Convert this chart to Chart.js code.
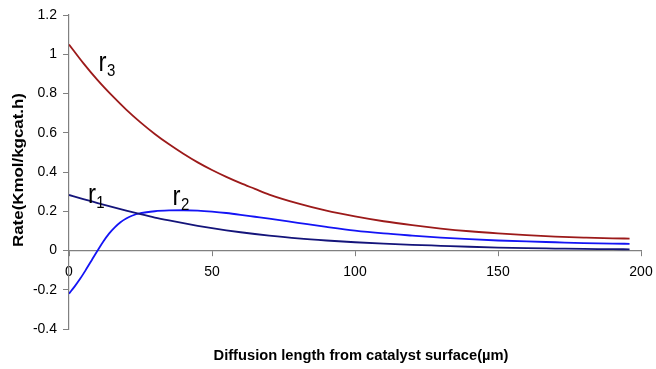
<!DOCTYPE html>
<html>
<head>
<meta charset="utf-8">
<script src="https://cdn.jsdelivr.net/npm/chart.js@4/dist/chart.umd.min.js"></script>
<style>
  html, body { margin: 0; padding: 0; background: #ffffff; }
  #wrap { width: 656px; height: 369px; position: relative; }
</style>
</head>
<body>
<div id="wrap"><canvas id="c" width="656" height="369"></canvas></div>
<script>
// ---- data ----
const xR3 = [0, 5, 10, 15, 20, 25, 30, 35, 40, 45, 50, 55, 60, 65, 70, 80, 90, 100, 110, 120, 130, 140, 150, 160, 170, 180, 190, 196];
const r3  = [1.05, 0.955, 0.868, 0.790, 0.718, 0.653, 0.594, 0.541, 0.493, 0.449, 0.410, 0.375, 0.343, 0.314, 0.285, 0.240, 0.203, 0.174, 0.149, 0.129, 0.112, 0.098, 0.087, 0.078, 0.071, 0.066, 0.062, 0.061];

const xR1 = [0, 5, 10, 15, 20, 25, 30, 35, 40, 45, 50, 55, 60, 65, 70, 80, 90, 100, 110, 120, 130, 140, 150, 160, 170, 180, 190, 196];
const r1  = [0.283, 0.262, 0.242, 0.222, 0.203, 0.185, 0.168, 0.153, 0.139, 0.126, 0.114, 0.103, 0.093, 0.084, 0.076, 0.062, 0.051, 0.042, 0.035, 0.029, 0.024, 0.019, 0.015, 0.012, 0.010, 0.008, 0.007, 0.006];

const xR2 = [0, 2, 4, 6, 8, 10, 12, 14, 16, 18, 20, 22, 25, 30, 35, 40, 45, 50, 55, 60, 65, 70, 80, 90, 100, 110, 120, 130, 140, 150, 160, 170, 180, 190, 196];
const r2  = [-0.22, -0.183, -0.142, -0.096, -0.048, 0.0, 0.046, 0.086, 0.118, 0.144, 0.163, 0.177, 0.19, 0.2, 0.204, 0.205, 0.203, 0.198, 0.191, 0.182, 0.172, 0.162, 0.141, 0.12, 0.101, 0.087, 0.076, 0.066, 0.058, 0.051, 0.046, 0.042, 0.038, 0.035, 0.034];

const yTickLabels = ['-0.4', '-0.2', '0', '0.2', '0.4', '0.6', '0.8', '1', '1.2'];
const xTickLabels = ['0', '50', '100', '150', '200'];
const seriesNames = ['r3', 'r1', 'r2'];
const xTitle = 'Diffusion length from catalyst surface(\u00b5m)';
const yTitle = 'Rate(Kmol/kgcat.h)';

function pts(xs, ys) { return xs.map((x, i) => ({ x: x, y: ys[i] })); }

const FONT = '"Liberation Sans", Arial, sans-serif';

// curve labels: [main letter, subscript, anchor x (data), anchor y (data)]
const curveLabels = [
  ['r', '3', 10.3, 0.915],
  ['r', '1', 6.6, 0.24],
  ['r', '2', 36.2, 0.232]
];

const decor = {
  id: 'decor',
  afterDraw(chart) {
    const ctx = chart.ctx;
    const xs = chart.scales.x, ys = chart.scales.y;
    ctx.save();
    ctx.fillStyle = '#000000';
    // x title
    ctx.font = 'bold 14.7px ' + FONT;
    ctx.textAlign = 'center';
    ctx.textBaseline = 'middle';
    ctx.fillText(xTitle, 361, 356);
    // y title (stretched along text to match)
    ctx.save();
    ctx.font = 'bold 14.5px ' + FONT;
    const w = ctx.measureText(yTitle).width;
    ctx.translate(18.5, 170);
    ctx.rotate(-Math.PI / 2);
    ctx.scale(154 / w, 1);
    ctx.fillText(yTitle, 0, 0);
    ctx.restore();
    // curve labels
    ctx.textAlign = 'left';
    ctx.textBaseline = 'alphabetic';
    curveLabels.forEach(l => {
      const px = xs.getPixelForValue(l[2]);
      const py = ys.getPixelForValue(l[3]);
      ctx.font = '24px ' + FONT;
      ctx.save();
      ctx.translate(px, py);
      ctx.scale(1, 1.12);
      ctx.fillText(l[0], 0, 0);
      const rw = ctx.measureText(l[0]).width;
      ctx.font = '15px ' + FONT;
      ctx.fillText(l[1], rw + 0.5, 4.5);
      ctx.restore();
    });
    ctx.restore();
  }
};

new Chart(document.getElementById('c'), {
  type: 'scatter',
  data: {
    datasets: [
      { label: seriesNames[0], data: pts(xR3, r3), borderColor: '#9c1a1a', showLine: true, borderWidth: 1.8, pointRadius: 0, cubicInterpolationMode: 'monotone', fill: false },
      { label: seriesNames[1], data: pts(xR1, r1), borderColor: '#14147a', showLine: true, borderWidth: 1.8, pointRadius: 0, cubicInterpolationMode: 'monotone', fill: false },
      { label: seriesNames[2], data: pts(xR2, r2), borderColor: '#1414f5', showLine: true, borderWidth: 1.8, pointRadius: 0, cubicInterpolationMode: 'monotone', fill: false }
    ]
  },
  options: {
    responsive: false,
    animation: false,
    devicePixelRatio: 1,
    layout: { padding: { left: 0, right: 15, top: 15, bottom: 40 } },
    plugins: { legend: { display: false }, tooltip: { enabled: false }, title: { display: false } },
    scales: {
      x: {
        type: 'linear',
        min: 0, max: 200,
        position: { y: 0 },
        afterFit: (s) => { s.paddingLeft = 0; s.paddingRight = 0; },
        grid: { drawOnChartArea: false, drawTicks: true, tickLength: 5, color: '#808080' },
        border: { color: '#808080', width: 1.2 },
        ticks: {
          stepSize: 50, padding: 8, color: '#000000',
          font: { family: FONT, size: 14 },
          maxRotation: 0,
          callback: (v) => { const i = xTickLabels.indexOf(String(v)); return i >= 0 ? xTickLabels[i] : ''; }
        }
      },
      y: {
        type: 'linear',
        min: -0.4, max: 1.2,
        position: 'left',
        afterFit: (s) => { s.width = 69; },
        grid: { drawOnChartArea: false, drawTicks: true, tickLength: 6, color: '#808080' },
        border: { color: '#808080', width: 1.2 },
        ticks: {
          stepSize: 0.2, padding: 6, color: '#000000',
          font: { family: FONT, size: 14 },
          callback: (v) => { const i = Math.round((v + 0.4) / 0.2); return yTickLabels[i]; }
        }
      }
    }
  },
  plugins: [decor]
});
</script>
</body>
</html>
